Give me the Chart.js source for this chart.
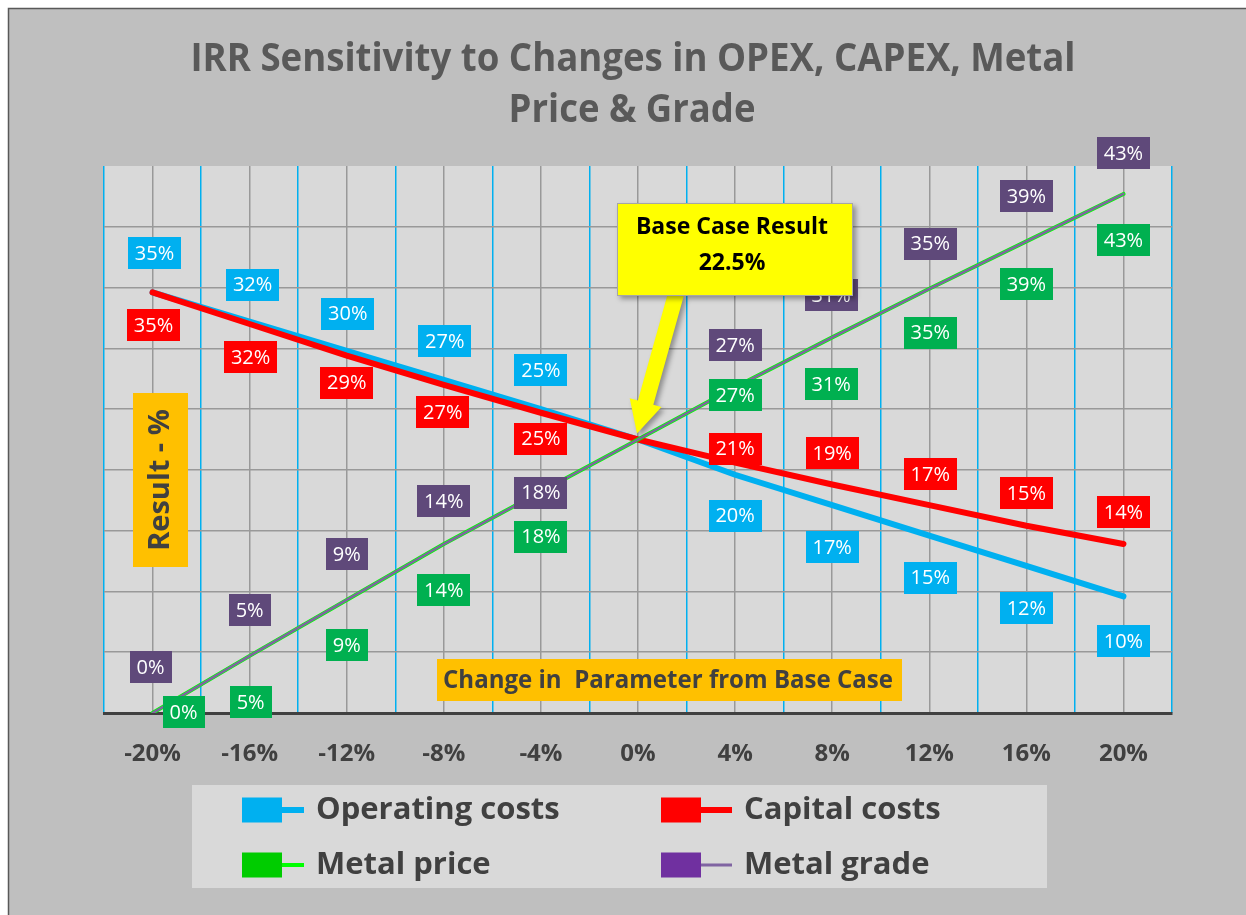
<!DOCTYPE html>
<html>
<head>
<meta charset="utf-8">
<title>IRR Sensitivity</title>
<script src="https://cdn.jsdelivr.net/npm/chart.js@4.4.1/dist/chart.umd.min.js"></script>
<style>
  html, body { margin: 0; padding: 0; background: #fff; }
  canvas { display: block; }
</style>
</head>
<body>
<canvas id="irrChart" width="1246" height="915"></canvas>
<script>
// chart data
const xLabels = ["-20%", "-16%", "-12%", "-8%", "-4%", "0%", "4%", "8%", "12%", "16%", "20%"];
const operatingCosts = [34.6, 32.2, 29.8, 27.4, 25.0, 22.5, 19.6, 17.1, 14.6, 12.1, 9.6];
const capitalCosts = [34.6, 32.0, 29.4, 27.0, 24.7, 22.5, 20.6, 18.8, 17.1, 15.4, 13.9];
const metalPrice = [0, 4.7, 9.3, 13.9, 18.2, 22.5, 26.8, 30.9, 34.9, 38.8, 42.7];
const metalGrade = [0, 4.7, 9.3, 13.9, 18.2, 22.5, 26.8, 30.9, 34.9, 38.8, 42.7];
const seriesNames = ["Operating costs", "Capital costs", "Metal price", "Metal grade"];
const baseCase = 22.5;
const baseCaseIndex = 5;
const yMin = 0, yMax = 45, yStep = 5;

const titleLines = ["IRR Sensitivity to Changes in OPEX, CAPEX, Metal", "Price & Grade"];

// label box colours and where each box sits relative to its point [dx, dy]
const labelColors = ["#00b0f0", "#ff0000", "#00b050", "#5f497a"];
const labelShifts = [
  [[2, -39], [3, -37], [1, -37], [1, -39], [0, -39], null, [0, 41], [0, 42], [1, 42], [0, 42], [0, 45]],
  [[1, 33], [1, 33], [0, 27], [-1, 27], [0, 26], null, [0, -14], [0, -31], [1, -31], [0, -33], [0, -32]],
  [[31, -1], [1, 46], [0, 45], [0, 46], [0, 45], null, [0, 8], [-1, 47], [1, 44], [0, 43], [0, 46]],
  [[-2, -46], [0, -46], [0, -46], [0, -43], [0, 1], null, [0, -42], [-1, -42], [1, -45], [0, -45], [0, -41]]
];

const FONT = '"Open Sans", sans-serif';
Chart.defaults.font.family = FONT;

const framePlugin = {
  id: "framePlugin",
  beforeDraw(chart) {
    const { ctx, chartArea: a } = chart;
    ctx.save();
    ctx.fillStyle = "#ffffff";
    ctx.fillRect(0, 0, chart.width, chart.height);
    ctx.fillStyle = "#bfbfbf";
    ctx.fillRect(8, 8, chart.width - 8, chart.height - 8);
    ctx.strokeStyle = "#595959";
    ctx.lineWidth = 1.5;
    ctx.beginPath();
    ctx.moveTo(8.5, chart.height);
    ctx.lineTo(8.5, 8.5);
    ctx.lineTo(chart.width, 8.5);
    ctx.stroke();

    ctx.fillStyle = "#d9d9d9";
    ctx.fillRect(a.left, a.top, a.right - a.left, a.bottom - a.top);

    ctx.fillStyle = "#595959";
    ctx.font = "bold 40px " + FONT;
    ctx.textAlign = "center";
    ctx.textBaseline = "alphabetic";
    ctx.fillText(titleLines[0], 633, 71, 885);
    ctx.fillText(titleLines[1], 632, 122, 247);
    ctx.restore();
  },
  beforeDatasetsDraw(chart) {
    const ctx = chart.ctx;
    ctx.save();
    ctx.fillStyle = "#ffc000";
    ctx.fillRect(133, 393, 55, 174);
    ctx.fillRect(437, 659, 465, 42);
    ctx.fillStyle = "#404040";
    ctx.textAlign = "center";
    ctx.textBaseline = "middle";
    ctx.font = "bold 25px " + FONT;
    ctx.fillText("Change in  Parameter from Base Case", 668, 681, 450);
    ctx.translate(161, 480);
    ctx.rotate(-Math.PI / 2);
    ctx.font = "bold 29px " + FONT;
    ctx.fillText("Result - %", 0, 0, 155);
    ctx.restore();
  },
  afterDatasetsDraw(chart) {
    const ctx = chart.ctx;
    ctx.save();
    ctx.font = "20px " + FONT;
    ctx.textAlign = "center";
    ctx.textBaseline = "middle";
    chart.data.datasets.forEach((ds, i) => {
      const meta = chart.getDatasetMeta(i);
      meta.data.forEach((pt, j) => {
        const s = labelShifts[i][j];
        if (!s) return;
        const text = Math.round(ds.data[j]) + "%";
        const w = Math.round(ctx.measureText(text).width + 14);
        const cx = pt.x + s[0];
        const cy = pt.y + s[1];
        ctx.fillStyle = labelColors[i];
        ctx.fillRect(Math.round(cx - w / 2), Math.round(cy - 16), w, 32);
        ctx.fillStyle = "#ffffff";
        ctx.fillText(text, cx, cy + 1);
      });
    });

    // base case callout
    const tipX = chart.scales.x.getPixelForValue(baseCaseIndex) - 1;
    const tipY = chart.scales.y.getPixelForValue(baseCase) - 6;
    const tailX = 676, tailY = 294;
    let dx = tipX - tailX, dy = tipY - tailY;
    const len = Math.hypot(dx, dy);
    dx /= len; dy /= len;
    const px = -dy, py = dx;
    const hbX = tipX - dx * 32, hbY = tipY - dy * 32;
    ctx.shadowColor = "rgba(0,0,0,0.35)";
    ctx.shadowBlur = 5;
    ctx.shadowOffsetX = 3;
    ctx.shadowOffsetY = 3;
    ctx.fillStyle = "#ffff00";
    ctx.beginPath();
    ctx.moveTo(tailX + px * 8, tailY + py * 8);
    ctx.lineTo(hbX + px * 8, hbY + py * 8);
    ctx.lineTo(hbX + px * 16.5, hbY + py * 16.5);
    ctx.lineTo(tipX, tipY);
    ctx.lineTo(hbX - px * 16.5, hbY - py * 16.5);
    ctx.lineTo(hbX - px * 8, hbY - py * 8);
    ctx.lineTo(tailX - px * 8, tailY - py * 8);
    ctx.closePath();
    ctx.fill();
    ctx.fillRect(617, 203, 236, 93);
    ctx.shadowColor = "transparent";
    ctx.strokeStyle = "#a6a6a6";
    ctx.lineWidth = 1;
    ctx.strokeRect(617.5, 203.5, 235, 92);
    ctx.fillStyle = "#000000";
    ctx.font = "bold 23px " + FONT;
    ctx.fillText("Base Case Result", 732, 227, 200);
    ctx.fillText(baseCase + "%", 732, 263, 70);
    ctx.restore();
  },
  afterDraw(chart) {
    const ctx = chart.ctx;
    ctx.save();
    ctx.fillStyle = "#d9d9d9";
    ctx.fillRect(192, 785, 855, 103);
    const items = [
      { x: 242, y: 810, lineEnd: 304, text: 316, w: 250, box: "#00b0f0", line: "#00b0f0", lw: 6 },
      { x: 661, y: 810, lineEnd: 732, text: 744, w: 199, box: "#ff0000", line: "#ff0000", lw: 6 },
      { x: 242, y: 865, lineEnd: 304, text: 316, w: 181, box: "#00cc00", line: "#00ff00", lw: 4 },
      { x: 661, y: 865, lineEnd: 732, text: 744, w: 194, box: "#7030a0", line: "#8064a2", lw: 3 }
    ];
    ctx.textAlign = "left";
    ctx.textBaseline = "middle";
    ctx.font = "bold 31px " + FONT;
    items.forEach((it, i) => {
      ctx.strokeStyle = it.line;
      ctx.lineWidth = it.lw;
      ctx.beginPath();
      ctx.moveTo(it.x + 30, it.y);
      ctx.lineTo(it.lineEnd, it.y);
      ctx.stroke();
      ctx.fillStyle = it.box;
      ctx.fillRect(it.x, it.y - 12.5, 40, 25);
      ctx.fillStyle = "#404040";
      ctx.fillText(seriesNames[i], it.text, it.y, it.w);
    });
    ctx.restore();
  }
};

const ctx = document.getElementById("irrChart").getContext("2d");
new Chart(ctx, {
  type: "line",
  data: {
    labels: xLabels,
    datasets: [
      { label: seriesNames[0], data: operatingCosts, borderColor: "#00b0f0", borderWidth: 6, order: 3 },
      { label: seriesNames[1], data: capitalCosts, borderColor: "#ff0000", borderWidth: 6, order: 2 },
      { label: seriesNames[2], data: metalPrice, borderColor: "#00ff00", borderWidth: 4, order: 1 },
      { label: seriesNames[3], data: metalGrade, borderColor: "#8064a2", borderWidth: 2.5, order: 0 }
    ]
  },
  options: {
    responsive: false,
    animation: false,
    devicePixelRatio: 1,
    layout: { padding: { top: 166, left: 104, right: 74, bottom: 142 } },
    elements: {
      point: { radius: 0, hoverRadius: 0 },
      line: { tension: 0, borderCapStyle: "round", fill: false }
    },
    plugins: {
      legend: { display: false },
      title: { display: false },
      tooltip: { enabled: false }
    },
    scales: {
      x: {
        type: "category",
        offset: true,
        grid: { offset: false, color: "#999999", lineWidth: 1.5, drawTicks: false },
        border: { display: true, color: "#404040", width: 3 },
        ticks: { color: "#404040", padding: 27, font: { size: 24, weight: "bold" } },
        afterFit: (scale) => { scale.height = 60; }
      },
      x2: {
        type: "category",
        labels: xLabels,
        position: "top",
        offset: true,
        grid: { offset: true, color: "#00b0f0", lineWidth: 1.5, drawTicks: false },
        border: { display: false },
        ticks: { display: false },
        afterFit: (scale) => { scale.height = 0; }
      },
      y: {
        min: yMin,
        max: yMax,
        ticks: { display: false, stepSize: yStep },
        grid: {
          drawTicks: false,
          lineWidth: 1.5,
          color: (c) => (c.tick && (c.tick.value === yMax || c.tick.value === yMin)) ? "rgba(0,0,0,0)" : "#999999"
        },
        border: { display: false },
        afterFit: (scale) => { scale.width = 0; }
      }
    }
  },
  plugins: [framePlugin]
});
</script>
</body>
</html>
